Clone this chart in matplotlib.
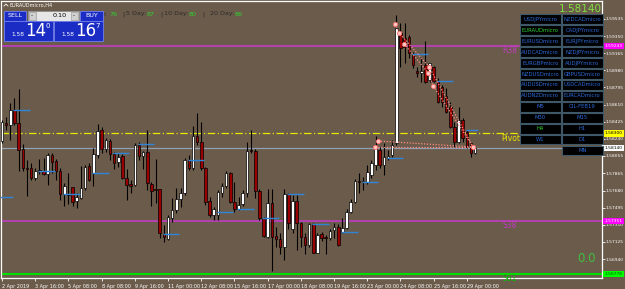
import matplotlib
matplotlib.use("Agg")
import matplotlib.pyplot as plt
from matplotlib.patches import Rectangle
import numpy as np

# EURAUDmicro H4 candles
opens = [1.58216, 1.58411, 1.58389, 1.58551, 1.58411, 1.58130, 1.57924, 1.57924, 1.57816, 1.57902,
         1.57891, 1.57859, 1.58065, 1.58000, 1.57891, 1.57643, 1.57643, 1.57718, 1.57567, 1.57600,
         1.57708, 1.57946, 1.57870, 1.58065, 1.58335, 1.58130, 1.58216, 1.58076, 1.57989, 1.58054,
         1.57816, 1.57751, 1.57740, 1.58173, 1.58054, 1.58097, 1.57751, 1.57697, 1.57697, 1.57211,
         1.57157, 1.57384, 1.57470, 1.57589, 1.57654, 1.58010, 1.57924, 1.58270, 1.58205, 1.57924,
         1.57567, 1.57416, 1.57416, 1.57654, 1.57729, 1.57870, 1.57556, 1.57481, 1.57535, 1.57654,
         1.58119, 1.58108, 1.57675, 1.57384, 1.57178, 1.57546, 1.57189, 1.57157, 1.57070, 1.57643,
         1.57265, 1.57567, 1.57330, 1.57178, 1.57092, 1.57319, 1.57006, 1.57211, 1.57178, 1.57168,
         1.57254, 1.57286, 1.57233, 1.57276, 1.57449, 1.57556, 1.57783, 1.57773, 1.57773, 1.57848,
         1.57956, 1.58119, 1.57956, 1.58032, 1.58065, 1.58195, 1.59383, 1.59329, 1.59340, 1.59146,
         1.58972, 1.58951, 1.59037, 1.58875, 1.59016, 1.58864, 1.58800, 1.58702, 1.58583, 1.58367,
         1.58205, 1.58443, 1.58313, 1.58195, 1.58086]
highs = [1.58443, 1.58475, 1.58627, 1.58681, 1.58778, 1.58184, 1.58010, 1.57978, 1.57924, 1.58021,
         1.58032, 1.58086, 1.58086, 1.58021, 1.57924, 1.57762, 1.57870, 1.57718, 1.57654, 1.57946,
         1.57956, 1.57978, 1.58141, 1.58400, 1.58367, 1.58249, 1.58238, 1.58097, 1.58086, 1.58076,
         1.57913, 1.57794, 1.58195, 1.58205, 1.58108, 1.58335, 1.57773, 1.58021, 1.57697, 1.57308,
         1.57416, 1.57600, 1.57708, 1.57708, 1.58032, 1.58065, 1.58378, 1.58519, 1.58421, 1.57935,
         1.57610, 1.57503, 1.57686, 1.57762, 1.57891, 1.57881, 1.57773, 1.57610, 1.57686, 1.58205,
         1.58335, 1.58130, 1.57697, 1.57394, 1.57697, 1.57697, 1.57286, 1.57222, 1.57697, 1.57654,
         1.57632, 1.57632, 1.57340, 1.57222, 1.57330, 1.57330, 1.57222, 1.57233, 1.57200, 1.57265,
         1.57330, 1.57319, 1.57384, 1.57481, 1.57589, 1.57805, 1.57870, 1.57827, 1.57956, 1.58010,
         1.58270, 1.58151, 1.58195, 1.58119, 1.58227, 1.59578, 1.59491, 1.59491, 1.59362, 1.59178,
         1.59016, 1.59124, 1.59297, 1.59059, 1.59027, 1.58897, 1.58821, 1.58789, 1.58638, 1.58421,
         1.58583, 1.58465, 1.58335, 1.58205, 1.58151]
lows = [1.58195, 1.58335, 1.58227, 1.58389, 1.57891, 1.57891, 1.57621, 1.57794, 1.57794, 1.57859,
        1.57848, 1.57740, 1.57870, 1.57794, 1.57578, 1.57513, 1.57535, 1.57513, 1.57492, 1.57589,
        1.57686, 1.57783, 1.57729, 1.58032, 1.58086, 1.58097, 1.58010, 1.57913, 1.57935, 1.57805,
        1.57578, 1.57654, 1.57729, 1.58010, 1.57913, 1.57686, 1.57513, 1.57546, 1.57168, 1.57124,
        1.57146, 1.57340, 1.57438, 1.57503, 1.57632, 1.57902, 1.57902, 1.58173, 1.57902, 1.57524,
        1.57394, 1.57362, 1.57362, 1.57610, 1.57708, 1.57546, 1.57449, 1.57470, 1.57513, 1.57610,
        1.58086, 1.57600, 1.57362, 1.57178, 1.57168, 1.56810, 1.57070, 1.56995, 1.56929, 1.57265,
        1.57222, 1.57038, 1.57070, 1.56995, 1.57070, 1.57006, 1.57006, 1.57135, 1.56995, 1.57146,
        1.57168, 1.57081, 1.57222, 1.57265, 1.57438, 1.57546, 1.57654, 1.57686, 1.57751, 1.57816,
        1.57902, 1.57924, 1.57848, 1.58010, 1.58043, 1.58173, 1.59016, 1.59059, 1.59113, 1.59005,
        1.58908, 1.58854, 1.58843, 1.58854, 1.58854, 1.58627, 1.58583, 1.58519, 1.58357, 1.58151,
        1.58195, 1.58205, 1.58141, 1.58043, 1.58076]
closes = [1.58421, 1.58389, 1.58551, 1.58411, 1.58119, 1.57924, 1.57913, 1.57816, 1.57891, 1.57891,
          1.57859, 1.58065, 1.57989, 1.57891, 1.57643, 1.57729, 1.57632, 1.57556, 1.57610, 1.57708,
          1.57935, 1.57794, 1.58076, 1.58324, 1.58130, 1.58227, 1.58076, 1.57978, 1.58043, 1.57816,
          1.57740, 1.57729, 1.58173, 1.58054, 1.58097, 1.57762, 1.57675, 1.57686, 1.57222, 1.57178,
          1.57394, 1.57470, 1.57589, 1.57654, 1.58010, 1.57924, 1.58270, 1.58205, 1.57924, 1.57556,
          1.57416, 1.57481, 1.57665, 1.57729, 1.57870, 1.57556, 1.57481, 1.57524, 1.57654, 1.58108,
          1.58108, 1.57675, 1.57384, 1.57189, 1.57546, 1.57178, 1.57157, 1.57070, 1.57643, 1.57330,
          1.57567, 1.57330, 1.57178, 1.57092, 1.57319, 1.57006, 1.57200, 1.57168, 1.57168, 1.57243,
          1.57286, 1.57092, 1.57276, 1.57449, 1.57556, 1.57783, 1.57773, 1.57783, 1.57881, 1.57978,
          1.58141, 1.57956, 1.58043, 1.58054, 1.58173, 1.59437, 1.59221, 1.59232, 1.59167, 1.59037,
          1.58951, 1.58972, 1.58854, 1.59059, 1.58864, 1.58638, 1.58638, 1.58529, 1.58367, 1.58205,
          1.58443, 1.58249, 1.58151, 1.58086, 1.58141]

# short blue daily-open markers: (first bar, price)
open_mark_bars = [-1, 3, 9, 15, 22, 27, 33, 39, 45, 52, 57, 63, 69, 75, 82, 87, 93, 99, 105, 112]
open_mark_prices = [1.57610, 1.58551, 1.57891, 1.57643, 1.57870, 1.58086, 1.58184, 1.57211, 1.58010, 1.57449,
                    1.57481, 1.57384, 1.57643, 1.57319, 1.57233, 1.57773, 1.58032, 1.59157, 1.58864, 1.58335]

# pink swing points and dotted links
swing_bars = [94.7, 95.7, 96.9, 102.7, 102.9, 103.9, 113.5, 89.9, 90.6]
swing_prices = [1.59481, 1.59383, 1.59264, 1.58951, 1.59016, 1.58810, 1.58151, 1.58151, 1.58216]
link_a_bars = [94.7, 95.7, 102.9, 113.5]
link_a_prices = [1.59481, 1.59383, 1.59016, 1.58151]
link_b_bars = [96.9, 102.7, 103.9, 113.5]
link_b_prices = [1.59264, 1.58951, 1.58810, 1.58151]
link_c_bars = [90.6, 113.5]
link_c_prices = [1.58216, 1.58151]
link_d_bars = [89.9, 113.5]
link_d_prices = [1.58151, 1.58151]

# levels
r38 = 1.59243
pivot = 1.58300
bid = 1.58140
s38 = 1.57351
s61 = 1.56778

ytick_vals = [1.59535, 1.59350, 1.59165, 1.58980, 1.58795, 1.58610, 1.58425, 1.58240, 1.58055,
              1.57865, 1.57680, 1.57495, 1.57310, 1.57125, 1.56940]
xtick_bars = [0, 8, 16, 24, 32, 40, 48, 56, 64, 72, 80, 88, 96, 104, 112]
xtick_labels = ["2 Apr 2019", "3 Apr 16:00", "5 Apr 08:00", "8 Apr 08:00", "9 Apr 16:00",
                "11 Apr 00:00", "12 Apr 08:00", "15 Apr 16:00", "17 Apr 00:00", "18 Apr 08:00",
                "19 Apr 16:00", "23 Apr 00:00", "24 Apr 08:00", "25 Apr 16:00", "29 Apr 00:00"]

adr_names = ["r:", "5 Day:", "10 Day:", "20 Day:"]
adr_values = ["76", "87", "80", "86"]

symbols_left = ["USDJPYmicro", "EURAUDmicro", "EURUSDmicro", "AUDCADmicro", "EURGBPmicro",
                "NZDUSDmicro", "AUDUSDmicro", "AUDNZDmicro", "M5", "M30", "H4", "W1"]
symbols_right = ["NZDCADmicro", "CADJPYmicro", "EURJPYmicro", "NZDJPYmicro", "AUDJPYmicro",
                 "GBPUSDmicro", "USDCADmicro", "EURCADmicro", "OIL-FEB19", "M15", "H1", "D1", "MN"]
active = ["EURAUDmicro", "H4"]

bg = "#6b5b4b"
W, H = 625, 289
fig = plt.figure(figsize=(W / 100, H / 100), dpi=100, facecolor=bg)

# main price chart, pixel box x 1..602, y 1..278
ax = fig.add_axes([1 / W, (H - 278) / H, 601 / W, 277 / H], facecolor=bg)
ax.set_xlim(-0.25, 144.55)
ax.set_ylim(1.56735, 1.59729)

x = np.arange(len(opens))
o = np.array(opens); h = np.array(highs); l = np.array(lows); c = np.array(closes)
up = c >= o
ax.vlines(x, l, h, color="black", lw=0.8, zorder=3)
ax.bar(x[up], c[up] - o[up], bottom=o[up], width=0.62, color="white",
       edgecolor="black", lw=0.5, zorder=4)
ax.bar(x[~up], o[~up] - c[~up], bottom=c[~up], width=0.62, color="#9a0000",
       edgecolor="black", lw=0.5, zorder=4)

# levels
ax.axhline(r38, color="#c03cc0", lw=1.2, zorder=2)
ax.axhline(s38, color="#c03cc0", lw=1.2, zorder=2)
ax.axhline(s61, color="#00e000", lw=1.5, zorder=2)
ax.axhline(pivot, color="#e8e800", lw=0.9, ls=(0, (6, 2, 1, 2)), zorder=2)
ax.axhline(bid, color="#8fa0b4", lw=0.9, zorder=2)
ax.text(120.6, r38 - 0.00004, "R38", color="#c03cc0", fontsize=5.5, va="top")
ax.text(120.6, s38 - 0.00004, "S38", color="#c03cc0", fontsize=5.5, va="top")
ax.text(120.6, s61 - 0.00004, "S61", color="#00c000", fontsize=5.5, va="top")
ax.text(120.2, pivot - 0.00004, "Pivot", color="#e8e800", fontsize=5.5, va="top")

for b, p in zip(open_mark_bars, open_mark_prices):
    ax.hlines(p, b - 0.3, min(b + 3.7, 114.6), color="#2f86d8", lw=1.0, zorder=5)

for bx, by in [(link_a_bars, link_a_prices), (link_b_bars, link_b_prices),
               (link_c_bars, link_c_prices), (link_d_bars, link_d_prices)]:
    ax.plot(bx, by, color="#ff8a80", lw=0.9, ls=(0, (1, 1.3)), zorder=6)
ax.scatter(swing_bars, swing_prices, s=9, color="#ffc8c0", edgecolor="#ff7070",
           lw=0.6, zorder=7)

# axes styling
for side in ["left", "bottom", "right", "top"]:
    ax.spines[side].set_color("white")
    ax.spines[side].set_linewidth(0.9)
ax.yaxis.tick_right()
ax.set_yticks(ytick_vals)
ax.set_yticklabels([f"{v:.5f}" for v in ytick_vals])
ax.tick_params(axis="y", colors="white", labelsize=3.2, length=2, width=0.6, pad=0.8)
ax.set_xticks(xtick_bars)
ax.set_xticklabels(xtick_labels, ha="left")
ax.tick_params(axis="x", colors="white", labelsize=3.5, length=2.5, width=0.6, pad=1.5)

# price tags on the axis
tag_t = ax.get_yaxis_transform()
for val, fc, tc in [(r38, "#ff00ff", "white"), (pivot, "#ffff00", "black"),
                    (bid, "white", "black"), (s38, "#ff00ff", "white"), (s61, "#00ff00", "#005000")]:
    ax.text(1.004, val, f"{val:.5f}", transform=tag_t, fontsize=3.2, color=tc, va="center",
            ha="left", clip_on=False, zorder=10,
            bbox=dict(boxstyle="square,pad=0.3", fc=fc, ec="none"))

# overlay in pixel space for panels and buttons
ov = fig.add_axes([0, 0, 1, 1], facecolor="none")
ov.set_xlim(0, W)
ov.set_ylim(H, 0)
ov.axis("off")

ov.text(10, 5, "EURAUDmicro,H4", color="white", fontsize=3.6, va="center")
ov.plot([4, 6, 8], [6, 4, 6], color="white", lw=0.6)

# ADR line (its first words sit behind the trade panel)
dark, green = "#2a2a2a", "#30d030"
name_x = [107.5, 126, 164, 210]
value_x = [109, 147, 189, 235]
for k, (nm, vl) in enumerate(zip(adr_names, adr_values)):
    ha = "right" if k == 0 else "left"
    ov.text(name_x[k], 14, nm, color=dark, fontsize=4.6, va="center", ha=ha, zorder=1)
    ov.text(value_x[k], 14, vl, color=green, fontsize=4.6, va="center", zorder=1)
for px in [122, 160, 202]:
    ov.text(px, 14, "|", color=dark, fontsize=4.6, va="center", zorder=1)

blue = "#1a2cc4"
ov.add_patch(Rectangle((4, 10.5), 22, 10, fc=blue, ec="#7080f0", lw=0.6, zorder=3))
ov.text(15, 15.5, "SELL", color="white", fontsize=4.6, ha="center", va="center", zorder=4)
ov.add_patch(Rectangle((27.5, 10.5), 51, 10, fc="#e6e6e6", ec="#909090", lw=0.6, zorder=3))
ov.add_patch(Rectangle((28.5, 11.5), 7, 8, fc="#d0d0d0", ec="#909090", lw=0.4, zorder=4))
ov.add_patch(Rectangle((70.5, 11.5), 7, 8, fc="#d0d0d0", ec="#909090", lw=0.4, zorder=4))
ov.text(32, 15.5, "-", fontsize=4, ha="center", va="center", zorder=5)
ov.text(74, 15.5, "-", fontsize=4, ha="center", va="center", zorder=5)
ov.text(67, 15.5, "0.10", color="black", fontsize=4.6, ha="right", va="center", zorder=5)
ov.add_patch(Rectangle((80, 10.5), 23, 10, fc=blue, ec="#7080f0", lw=0.6, zorder=3))
ov.text(91.5, 15.5, "BUY", color="white", fontsize=4.6, ha="center", va="center", zorder=4)
for bx0, big, sup in [(4, "14", "0"), (54, "16", "7")]:
    ov.add_patch(Rectangle((bx0, 21), 49, 19.5, fc=blue, ec="#7080f0", lw=0.6, zorder=3))
    ov.text(bx0 + 7, 34, "1.58", color="white", fontsize=4.2, va="center", zorder=4)
    ov.text(bx0 + 21, 31.5, big, color="white", fontsize=12, va="center", zorder=4)
    ov.text(bx0 + 41, 25.5, sup, color="white", fontsize=5, va="center", zorder=4)

ov.text(602, 8.5, "1.58140", color="#80e040", fontsize=7.5, ha="right", va="center", zorder=6)
ov.text(586, 258, "0.0", color="#40c040", fontsize=8.5, ha="center", va="center")

for col_x, names in [(520, symbols_left), (562, symbols_right)]:
    for k, name in enumerate(names):
        y0 = 14.3 + 10.95 * k
        ov.add_patch(Rectangle((col_x, y0), 40.5, 9.7, fc="black", ec="#3e5868", lw=0.8, zorder=3))
        tc = "#30d030" if name in active else "#2a6ad8"
        ov.text(col_x + 20.25, y0 + 5, name, color=tc, fontsize=3.8, ha="center",
                va="center", zorder=4)

fig.savefig("out.png", dpi=100, facecolor=bg)
